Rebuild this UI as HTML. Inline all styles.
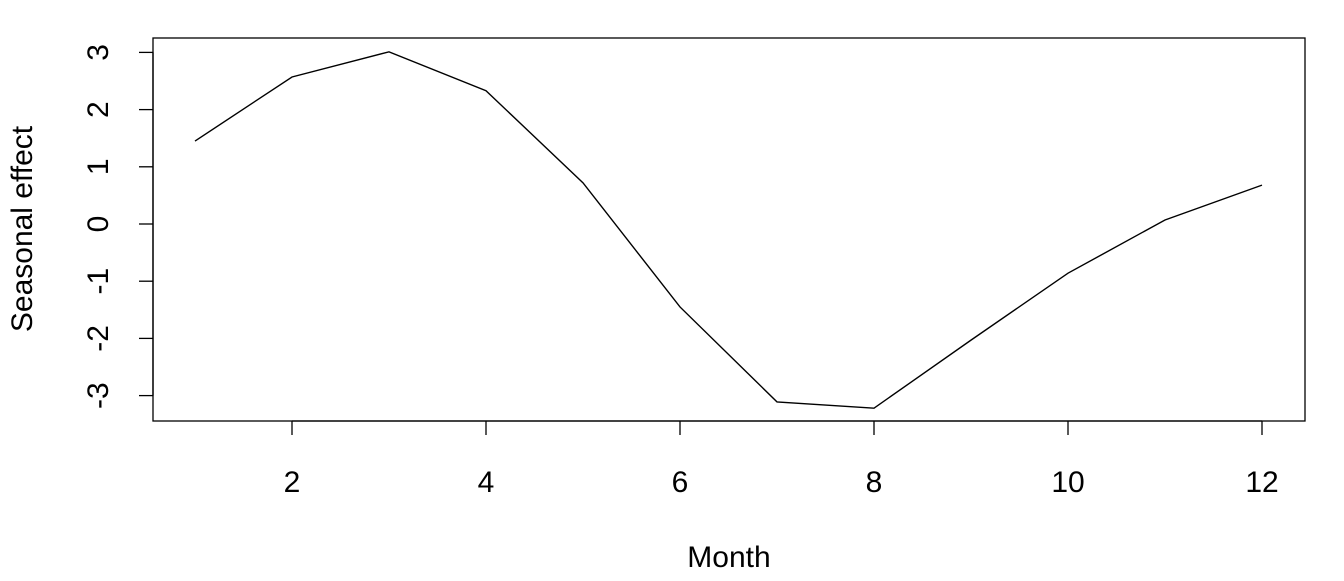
<!DOCTYPE html>
<html><head><meta charset="utf-8"><style>
html,body{margin:0;padding:0;background:#fff}
svg text{font-family:"Liberation Sans",Arial,sans-serif;font-size:30px;fill:#000}
</style></head><body>
<svg id="chart" width="1344" height="576" xmlns="http://www.w3.org/2000/svg"></svg>
<script>
const months = [1,2,3,4,5,6,7,8,9,10,11,12];
const seasonalEffect = [1.45,2.57,3.01,2.33,0.72,-1.45,-3.11,-3.22,-2.03,-0.86,0.07,0.68];
const xTicks = [2,4,6,8,10,12];
const yTicks = [-3,-2,-1,0,1,2,3];

const NS="http://www.w3.org/2000/svg";
const svg=document.getElementById('chart');
function xs(v){return 195+(v-1)*97;}
function ys(v){return 224-v*57.2;}
function mk(tag,attrs){const e=document.createElementNS(NS,tag);for(const k in attrs)e.setAttribute(k,attrs[k]);svg.appendChild(e);return e;}

const box=mk('rect',{x:153,y:38,width:1152,height:383,fill:'none',stroke:'#000','stroke-width':1.3});



const xAxis=mk('line',{x1:xs(xTicks[0]),x2:xs(xTicks[xTicks.length-1]),y1:421,y2:421,stroke:'#000','stroke-width':1.3});


xTicks.forEach(t=>{
  const l=mk('line',{x1:xs(t),x2:xs(t),y1:421,y2:435,stroke:'#000','stroke-width':1.3});
  
  
  const tx=mk('text',{x:xs(t),y:492,'text-anchor':'middle'});
  tx.textContent=t;
  
  
});

const yAxis=mk('line',{x1:153,x2:153,y1:ys(yTicks[0]),y2:ys(yTicks[yTicks.length-1]),stroke:'#000','stroke-width':1.3});


yTicks.forEach(t=>{
  const l=mk('line',{x1:139,x2:153,y1:ys(t),y2:ys(t),stroke:'#000','stroke-width':1.3});
  
  
  const tx=mk('text',{x:108,y:ys(t),'text-anchor':'middle',transform:`rotate(-90 108 ${ys(t)})`});
  tx.textContent=t<0?'-'+Math.abs(t):t;
  
  
});

const pts=months.map((m,i)=>xs(m)+','+ys(seasonalEffect[i])).join(' ');
const line=mk('polyline',{points:pts,fill:'none',stroke:'#000','stroke-width':1.4});



const xt=mk('text',{x:729,y:567,'text-anchor':'middle'});
xt.textContent='Month';


const yt=mk('text',{x:32,y:229,'text-anchor':'middle',transform:'rotate(-90 32 229)'});
yt.textContent='Seasonal effect';


</script>
</body></html>
